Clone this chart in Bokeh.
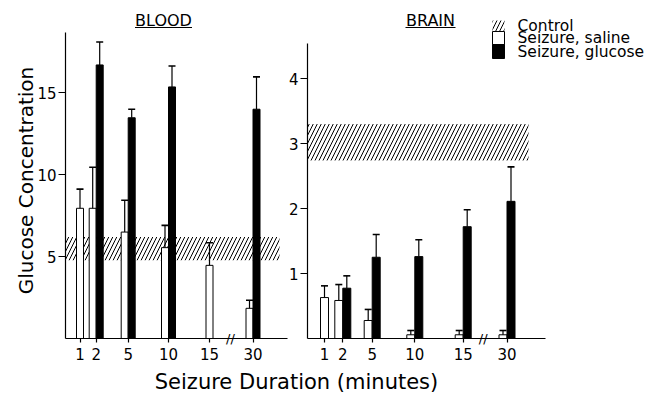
import math
from bokeh.plotting import figure
from bokeh.models import Range1d, LinearAxis, FixedTicker, Label
from bokeh.embed import file_html
from bokeh.resources import INLINE

FONT = "DejaVu Sans"

# ---------------- data ----------------
durations = ["1", "2", "5", "10", "15", "30"]

blood_saline = [7.94, 7.94, 6.49, 5.54, 4.46, 1.84]
blood_saline_err = [1.17, 2.50, 1.94, 1.36, 1.38, 0.49]
blood_glucose = [None, 16.68, 13.46, 15.34, None, 13.98]
blood_glucose_err = [None, 1.40, 0.52, 1.28, None, 1.97]
blood_control = 5.48
blood_control_sd = 0.71

brain_saline = [0.63, 0.585, 0.277, 0.057, 0.057, 0.057]
brain_saline_err = [0.18, 0.245, 0.17, 0.066, 0.066, 0.066]
brain_glucose = [None, 0.774, 1.25, 1.26, 1.72, 2.11]
brain_glucose_err = [None, 0.19, 0.35, 0.26, 0.26, 0.53]
brain_control = 3.02
brain_control_sd = 0.28

blood_ticks = [5, 10, 15]
brain_ticks = [1, 2, 3, 4]
legend_labels = ["Control", "Seizure, saline", "Seizure, glucose"]

# ---------------- layout ----------------
# x: pixels from the blood y-axis; y "px": pixels above the common baseline
W, H = 654, 394
ORIGIN_X, ORIGIN_Y = 65, 338
blood_pos = [14.5, 30.7, 62.7, 103, 144, 187.5]
brain_pos = [259, 277.3, 306.7, 349.3, 397.7, 441.5]
blood_bar_w = 7
brain_bar_w = 8
blood_panel = (0, 222)
brain_panel = (242, 480)
blood_band_x = (0, 214)
brain_band_x = (242, 463)
blood_px_per_unit = 16.4
brain_px_per_unit = 65.0
blood_axis_top = 18.66
brain_axis_top = 4.54
break_x = [165, 417.7]
legend_box_x = (427, 439)
legend_rows = [(307, 318), (294, 307), (280, 294)]   # (bottom, top) in px
legend_text_x = 452

below = H - ORIGIN_Y
p = figure(width=W, height=H, output_backend="svg", toolbar_location=None,
           x_range=Range1d(-ORIGIN_X, W - ORIGIN_X),
           y_range=Range1d(-below / blood_px_per_unit, ORIGIN_Y / blood_px_per_unit),
           x_axis_location=None, y_axis_location=None,
           min_border_left=0, min_border_right=0, min_border_top=0,
           min_border_bottom=0, outline_line_color=None,
           background_fill_color="white", border_fill_color="white")
p.extra_y_ranges = {"brain": Range1d(-below / brain_px_per_unit, ORIGIN_Y / brain_px_per_unit),
                    "px": Range1d(-below, ORIGIN_Y)}
p.grid.visible = False


def style_axis(ax, tick_out=7, standoff=2):
    ax.axis_line_color = "black"
    ax.axis_line_width = 1.2
    ax.major_tick_line_color = "black"
    ax.major_tick_line_width = 1.2
    ax.major_tick_in = 0
    ax.major_tick_out = tick_out
    ax.minor_tick_in = 0
    ax.minor_tick_out = 0
    ax.major_label_standoff = standoff
    ax.major_label_text_font = FONT
    ax.major_label_text_font_size = "15px"
    ax.major_label_text_color = "black"


# y axes
ax_blood = LinearAxis(ticker=FixedTicker(ticks=blood_ticks), bounds=(0, blood_axis_top),
                      fixed_location=blood_panel[0])
style_axis(ax_blood)
p.add_layout(ax_blood, "left")
ax_brain = LinearAxis(y_range_name="brain", ticker=FixedTicker(ticks=brain_ticks),
                      bounds=(0, brain_axis_top), fixed_location=brain_panel[0])
style_axis(ax_brain)
p.add_layout(ax_brain, "left")

# x tick labels for both panels
overrides = {}
for pos_list in (blood_pos, brain_pos):
    for x, d in zip(pos_list, durations):
        overrides[x] = d
ax_x = LinearAxis(ticker=FixedTicker(ticks=blood_pos + brain_pos),
                  major_label_overrides=overrides, fixed_location=0)
style_axis(ax_x, tick_out=4, standoff=5)
ax_x.axis_line_color = None
p.add_layout(ax_x, "below")

# baselines of the two panels
for a, b in (blood_panel, brain_panel):
    bl = LinearAxis(ticker=FixedTicker(ticks=[]), bounds=(a, b), fixed_location=0)
    style_axis(bl, tick_out=0, standoff=0)
    p.add_layout(bl, "below")

# control bands
band_kw = dict(fill_color="white", line_color=None, hatch_pattern="/",
               hatch_color="black", hatch_scale=8, hatch_weight=1)
white_kw = dict(fill_color="white", line_color="black", line_width=1)
black_kw = dict(fill_color="black", line_color="black", line_width=1)
p.quad(left=[blood_band_x[0]], right=[blood_band_x[1]],
       bottom=[blood_control - blood_control_sd],
       top=[blood_control + blood_control_sd], **band_kw)
p.quad(left=[brain_band_x[0]], right=[brain_band_x[1]],
       bottom=[brain_control - brain_control_sd],
       top=[brain_control + brain_control_sd], y_range_name="brain", **band_kw)


def panel(pos, sal, sal_err, glu, glu_err, w, yname):
    sx, st, se, gx, gt, ge = [], [], [], [], [], []
    for x, s, serr, g, gerr in zip(pos, sal, sal_err, glu, glu_err):
        if g is None:
            sx.append(x)
        else:
            sx.append(x - w / 2)
            gx.append(x + w / 2)
            gt.append(g)
            ge.append(gerr)
        st.append(s)
        se.append(serr)
    p.vbar(x=sx, top=st, bottom=0, width=w, y_range_name=yname, **white_kw)
    p.vbar(x=gx, top=gt, bottom=0, width=w, y_range_name=yname, **black_kw)
    ex = sx + gx
    et = st + gt
    eu = [t + e for t, e in zip(st + gt, se + ge)]
    p.segment(x0=ex, y0=et, x1=ex, y1=eu, line_color="black", line_width=1.2,
              y_range_name=yname)
    p.scatter(x=ex, y=eu, marker="dash", size=7, line_color="black",
              line_width=1.6, y_range_name=yname)


panel(blood_pos, blood_saline, blood_saline_err,
      blood_glucose, blood_glucose_err, blood_bar_w, "default")
panel(brain_pos, brain_saline, brain_saline_err,
      brain_glucose, brain_glucose_err, brain_bar_w, "brain")

# axis break marks
for bx in break_x:
    p.add_layout(Label(x=bx, y=0, text="//", text_align="center",
                       text_baseline="middle", text_font=FONT,
                       text_font_size="13px", text_color="black"))

# panel titles with underline
for tx, txt, half in ((98, "BLOOD", 28.5), (365, "BRAIN", 25)):
    p.add_layout(Label(x=tx, y=318, y_range_name="px", text=txt,
                       text_align="center", text_baseline="middle",
                       text_font=FONT, text_font_size="16px", text_color="black"))
    p.segment(x0=[tx - half], x1=[tx + half], y0=[311], y1=[311],
              y_range_name="px", line_color="black", line_width=1.2)

# axis titles
p.add_layout(Label(x=-40, y=158, y_range_name="px", text="Glucose Concentration",
                   angle=math.pi / 2, text_align="center", text_baseline="middle",
                   text_font=FONT, text_font_size="20px", text_color="black"))
p.add_layout(Label(x=231, y=-43, y_range_name="px", text="Seizure Duration (minutes)",
                   text_align="center", text_baseline="middle",
                   text_font=FONT, text_font_size="21px", text_color="black"))

# legend (stacked swatches + labels)
swatch_styles = [band_kw, white_kw, black_kw]
for (b, t), style, lab in zip(legend_rows, swatch_styles, legend_labels):
    p.quad(left=[legend_box_x[0]], right=[legend_box_x[1]], bottom=[b], top=[t],
           y_range_name="px", **style)
    p.add_layout(Label(x=legend_text_x, y=(b + t) / 2, y_range_name="px", text=lab,
                       text_align="left", text_baseline="middle",
                       text_font=FONT, text_font_size="15.5px", text_color="black"))

open("out.html", "w").write(file_html(p, INLINE))
